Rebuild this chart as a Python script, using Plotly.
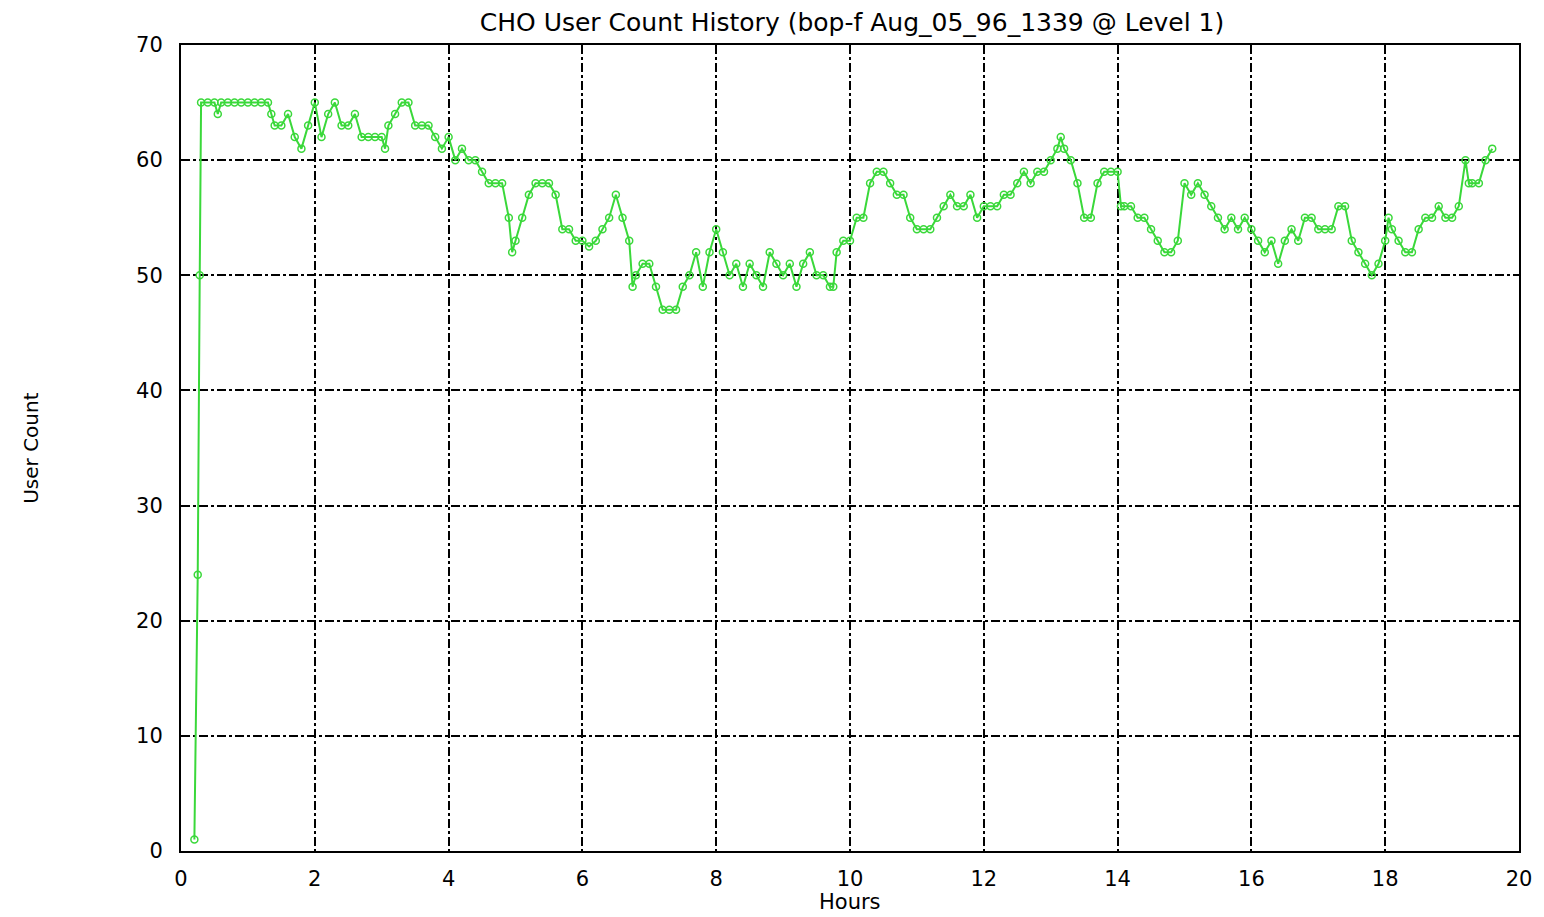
import plotly.graph_objects as go

hours = [0.2, 0.25, 0.28, 0.3, 0.4, 0.5, 0.55, 0.6, 0.7, 0.8, 0.9, 1.0, 1.1, 1.2, 1.3, 1.35, 1.4, 1.5,
         1.6, 1.7, 1.8, 1.9, 2.0, 2.1, 2.2, 2.3, 2.4, 2.5, 2.6, 2.7, 2.8, 2.9, 3.0, 3.05, 3.1, 3.2,
         3.3, 3.4, 3.5, 3.6, 3.7, 3.8, 3.9, 4.0, 4.1, 4.2, 4.3, 4.4, 4.5, 4.6, 4.7, 4.8, 4.9, 4.95,
         5.0, 5.1, 5.2, 5.3, 5.4, 5.5, 5.6, 5.7, 5.8, 5.9, 6.0, 6.1, 6.2, 6.3, 6.4, 6.5, 6.6, 6.7,
         6.75, 6.8, 6.9, 7.0, 7.1, 7.2, 7.3, 7.4, 7.5, 7.6, 7.7, 7.8, 7.9, 8.0, 8.1, 8.2, 8.3, 8.4,
         8.5, 8.6, 8.7, 8.8, 8.9, 9.0, 9.1, 9.2, 9.3, 9.4, 9.5, 9.6, 9.7, 9.75, 9.8, 9.9, 10.0, 10.1,
         10.2, 10.3, 10.4, 10.5, 10.6, 10.7, 10.8, 10.9, 11.0, 11.1, 11.2, 11.3, 11.4, 11.5, 11.6,
         11.7, 11.8, 11.9, 12.0, 12.1, 12.2, 12.3, 12.4, 12.5, 12.6, 12.7, 12.8, 12.9, 13.0, 13.1,
         13.15, 13.2, 13.3, 13.4, 13.5, 13.6, 13.7, 13.8, 13.9, 14.0, 14.05, 14.1, 14.2, 14.3, 14.4,
         14.5, 14.6, 14.7, 14.8, 14.9, 15.0, 15.1, 15.2, 15.3, 15.4, 15.5, 15.6, 15.7, 15.8, 15.9,
         16.0, 16.1, 16.2, 16.3, 16.4, 16.5, 16.6, 16.7, 16.8, 16.9, 17.0, 17.1, 17.2, 17.3, 17.4,
         17.5, 17.6, 17.7, 17.8, 17.9, 18.0, 18.05, 18.1, 18.2, 18.3, 18.4, 18.5, 18.6, 18.7, 18.8,
         18.9, 19.0, 19.1, 19.2, 19.25, 19.3, 19.4, 19.5, 19.6]

user_count = [1, 24, 50, 65, 65, 65, 64, 65, 65, 65, 65, 65, 65, 65, 65, 64, 63, 63,
              64, 62, 61, 63, 65, 62, 64, 65, 63, 63, 64, 62, 62, 62, 62, 61, 63, 64,
              65, 65, 63, 63, 63, 62, 61, 62, 60, 61, 60, 60, 59, 58, 58, 58, 55, 52,
              53, 55, 57, 58, 58, 58, 57, 54, 54, 53, 53, 52.5, 53, 54, 55, 57, 55, 53,
              49, 50, 51, 51, 49, 47, 47, 47, 49, 50, 52, 49, 52, 54, 52, 50, 51, 49,
              51, 50, 49, 52, 51, 50, 51, 49, 51, 52, 50, 50, 49, 49, 52, 53, 53, 55,
              55, 58, 59, 59, 58, 57, 57, 55, 54, 54, 54, 55, 56, 57, 56,
              56, 57, 55, 56, 56, 56, 57, 57, 58, 59, 58, 59, 59, 60, 61,
              62, 61, 60, 58, 55, 55, 58, 59, 59, 59, 56, 56, 56, 55, 55,
              54, 53, 52, 52, 53, 58, 57, 58, 57, 56, 55, 54, 55, 54, 55,
              54, 53, 52, 53, 51, 53, 54, 53, 55, 55, 54, 54, 54, 56, 56,
              53, 52, 51, 50, 51, 53, 55, 54, 53, 52, 52, 54, 55, 55, 56,
              55, 55, 56, 60, 58, 58, 58, 60, 61]

x_ticks = [0, 2, 4, 6, 8, 10, 12, 14, 16, 18, 20]
y_ticks = [0, 10, 20, 30, 40, 50, 60, 70]

font_family = "DejaVu Sans, Liberation Sans, sans-serif"

fig = go.Figure()
fig.add_trace(go.Scatter(
    x=hours, y=user_count, mode="lines+markers",
    line=dict(color="#3ad83a", width=2),
    marker=dict(symbol="circle-open", size=7, color="#3ad83a", line=dict(width=1.5)),
    showlegend=False,
))

axis_common = dict(
    showline=True, linecolor="black", linewidth=2, mirror=True,
    showgrid=True, gridcolor="black", gridwidth=1.5, griddash="dashdot",
    zeroline=False, ticks="", tickfont=dict(family=font_family, size=21, color="black"),
)

fig.update_layout(
    width=1536, height=909,
    paper_bgcolor="white", plot_bgcolor="white",
    margin=dict(l=173, r=18, t=37, b=66),
    title=dict(text="CHO User Count History (bop-f Aug_05_96_1339 @ Level 1)",
               x=(852 - 8) / 1536, xanchor="center", y=1 - (22 - 8) / 909, yanchor="middle",
               font=dict(family=font_family, size=25, color="black")),
    xaxis=dict(range=[0, 20], tickvals=x_ticks, ticktext=[str(t) for t in x_ticks],
               ticklabelstandoff=8, **axis_common),
    yaxis=dict(range=[0, 70], tickvals=y_ticks, ticktext=[str(t) for t in y_ticks],
               ticklabelstandoff=12, **axis_common),
    annotations=[
        dict(text="Hours", xref="paper", yref="paper", x=0.5, y=-(902 - 851) / (909 - 37 - 66),
             xanchor="center", yanchor="middle", showarrow=False,
             font=dict(family=font_family, size=21, color="black")),
        dict(text="User Count", xref="paper", yref="paper", x=-(181 - 30) / (1536 - 173 - 18),
             y=(851 - 448) / (909 - 37 - 66), xanchor="center", yanchor="middle", textangle=-90,
             showarrow=False, font=dict(family=font_family, size=20, color="black")),
    ],
)

fig.write_html("out.html")
